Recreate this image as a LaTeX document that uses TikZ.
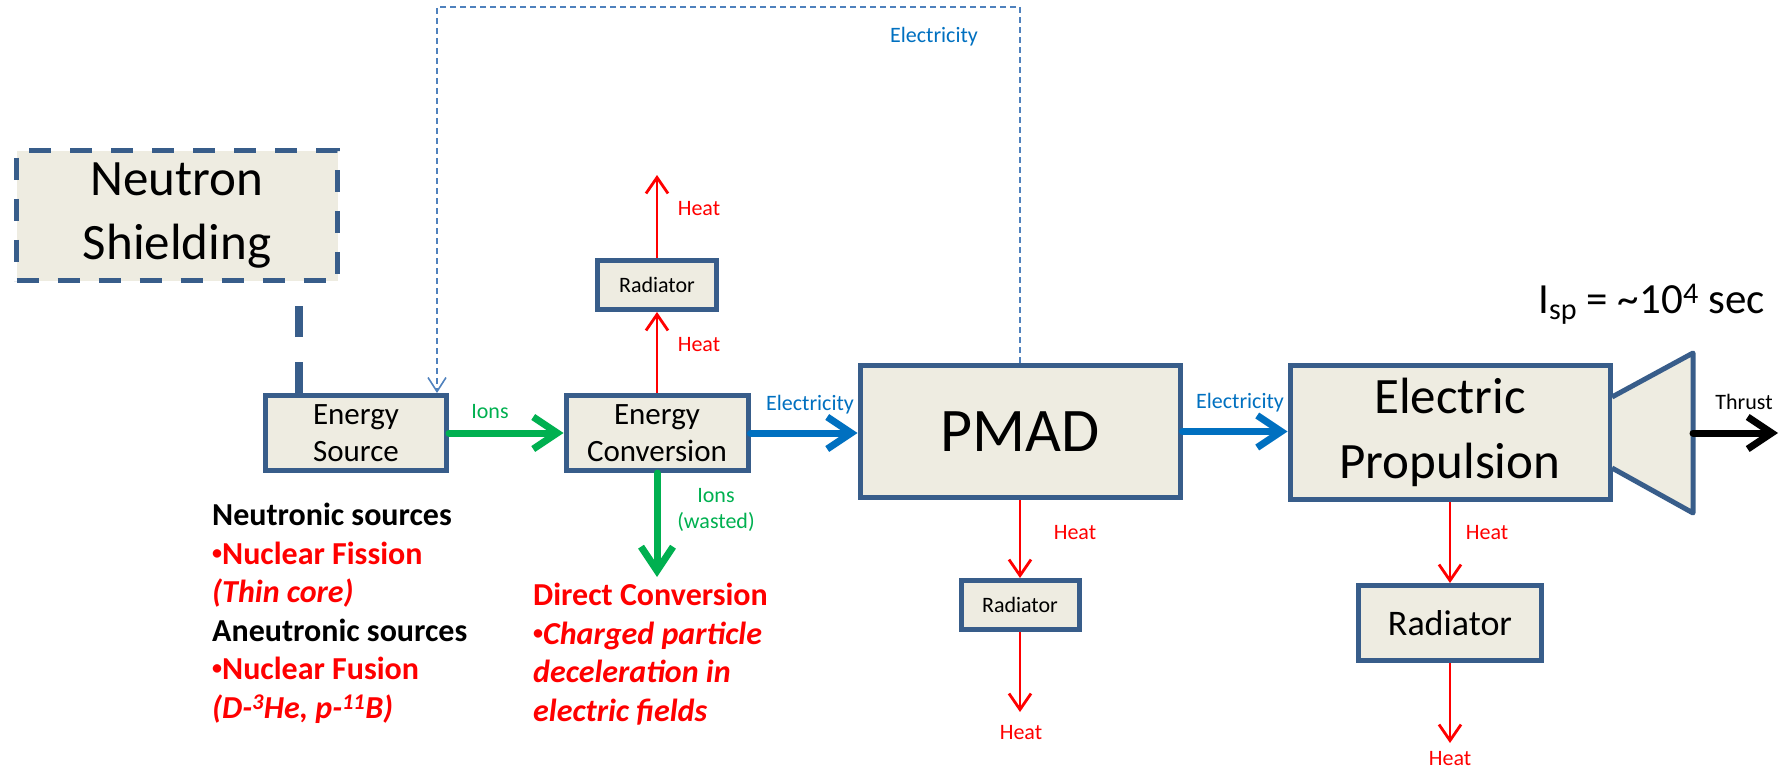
\documentclass[tikz,border=0pt]{standalone}
\usepackage{fontspec}
\setmainfont{Carlito}
\usetikzlibrary{arrows.meta}
\definecolor{boxline}{HTML}{385D8A}
\definecolor{boxfill}{HTML}{EEECE1}
\definecolor{ionsgreen}{HTML}{00B050}
\definecolor{elecblue}{HTML}{0070C0}
\definecolor{heatred}{HTML}{FF0000}
\definecolor{loopblue}{HTML}{4F81BD}
\newcommand\dotmark{\raisebox{5pt}{\fontsize{20}{20}\selectfont •}}
\begin{document}
\begin{tikzpicture}[x=1pt,y=-1pt,
  blk/.style={draw=boxline,fill=boxfill,line width=5pt,inner sep=0pt,align=center},
  lbl/.style={inner sep=0pt,font=\fontsize{22}{26}\selectfont},
  ionflow/.style={draw=ionsgreen,line width=7pt,line cap=round,-{Straight Barb[length=24pt,width=32pt]}},
  powerflow/.style={draw=elecblue,line width=7pt,line cap=round,-{Straight Barb[length=24pt,width=32pt]}},
  thrustflow/.style={draw=black,line width=7pt,line cap=round,-{Straight Barb[length=24pt,width=32pt]}},
  heatflow/.style={draw=heatred,line width=2.8pt,-{Straight Barb[length=16pt,width=22pt]}},
  feedback/.style={draw=loopblue,line width=1.6pt,dash pattern=on 6pt off 4pt,-{Straight Barb[length=14pt,width=18pt]}},
  shieldlink/.style={draw=boxline,line width=8pt,dash pattern=on 31pt off 25pt}]
\useasboundingbox (0,0) rectangle (1791,768);

\node[blk,minimum width=321pt,minimum height=130pt,dash pattern=on 22pt off 19pt,font=\fontsize{51}{64}\selectfont] (shield) at (177,215.5) {Neutron\\Shielding};
\node[blk,minimum width=181pt,minimum height=75pt,font=\fontsize{31}{37}\selectfont] (src) at (356,433) {Energy\\Source};
\node[blk,minimum width=182pt,minimum height=75pt,font=\fontsize{31}{37}\selectfont] (conv) at (657,433) {Energy\\Conversion};
\node[blk,minimum width=119pt,minimum height=49pt,font=\fontsize{22}{26}\selectfont] (rad1) at (657,285) {Radiator};
\node[blk,minimum width=320pt,minimum height=132pt,font=\fontsize{62}{70}\selectfont] (pmad) at (1020,431.5) {PMAD};
\node[blk,minimum width=118pt,minimum height=49pt,font=\fontsize{22}{26}\selectfont] (rad2) at (1020,605) {Radiator};
\node[blk,minimum width=320pt,minimum height=134pt,font=\fontsize{51}{65}\selectfont] (prop) at (1450,432.5) {Electric\\Propulsion};
\node[blk,minimum width=183pt,minimum height=75pt,font=\fontsize{36}{42}\selectfont] (rad3) at (1450,623) {Radiator};
\draw[draw=boxline,fill=boxfill,line width=5pt,line join=round] (1612,397) -- (1693,353) -- (1693,513) -- (1612,468);

\coordinate (dc) at (657,577);
\coordinate (heat1) at (657,175);
\coordinate (heat2) at (1020,712);
\coordinate (heat3) at (1450,743);
\coordinate (nozzle) at (1693,433);
\coordinate (thrust) at (1778,433);
\coordinate (loop) at (700,7);

\draw[shieldlink] ([xshift=36pt]src.north west) -- ([xshift=36pt]src.north west |- shield.south);
\draw[feedback] (pmad.north) |- (loop) -| ([xshift=-12pt]src.north east);
\draw[ionflow] (src) -- (conv);
\draw[ionflow] (conv.south) -- (dc);
\draw[powerflow] (conv.east) -- (conv.east -| pmad.west);
\draw[powerflow] (pmad.east) -- (pmad.east -| prop.west);
\draw[heatflow] (conv) -- (rad1);
\draw[heatflow] (rad1) -- (heat1);
\draw[heatflow] (pmad) -- (rad2);
\draw[heatflow] (rad2) -- (heat2);
\draw[heatflow] (prop) -- (rad3);
\draw[heatflow] (rad3) -- (heat3);
\draw[thrustflow] (nozzle) -- (thrust);

\node[lbl,text=elecblue] (elabtop) at (934,37) {Electricity};
\node[lbl,text=ionsgreen] (ionlab) at (490,412) {Ions};
\node[lbl,text=elecblue] (elab1) at (810,405) {Electricity};
\node[lbl,text=elecblue] (elab2) at (1240,403) {Electricity};
\node[lbl] (thrustlab) at (1744,402) {Thrust};
\node[lbl,text=heatred] (h1) at (699,209) {Heat};
\node[lbl,text=heatred] (h2) at (699,345) {Heat};
\node[lbl,text=heatred] (h3) at (1075,533) {Heat};
\node[lbl,text=heatred] (h4) at (1021,733) {Heat};
\node[lbl,text=heatred] (h5) at (1487,533) {Heat};
\node[lbl,text=heatred] (h6) at (1450,759) {Heat};
\node[lbl,text=ionsgreen,align=center] (wastelab) at (716,510) {Ions\\(wasted)};
\node[anchor=base west,inner sep=0pt,font=\fontsize{43}{50}\selectfont] (isp) at (1538,313) {I\textsubscript{sp} = \textasciitilde10\textsuperscript{4} sec};

\node[anchor=north west,inner sep=0pt,align=left,font=\bfseries\fontsize{32}{38.5}\selectfont] (srclist) at (212,503)
  {Neutronic sources\\
   \textcolor{heatred}{\dotmark Nuclear Fission}\\
   \textcolor{heatred}{\itshape (Thin core)}\\
   Aneutronic sources\\
   \textcolor{heatred}{\dotmark Nuclear Fusion}\\
   \textcolor{heatred}{\itshape (D-\textsuperscript{3}He, p-\textsuperscript{11}B)}};
\node[anchor=north west,inner sep=0pt,align=left,text=heatred,font=\bfseries\fontsize{32}{38.5}\selectfont] (dclist) at (533,583)
  {Direct Conversion\\
   \dotmark\textit{Charged particle}\\
   \textit{deceleration in}\\
   \textit{electric fields}};
\end{tikzpicture}
\end{document}
